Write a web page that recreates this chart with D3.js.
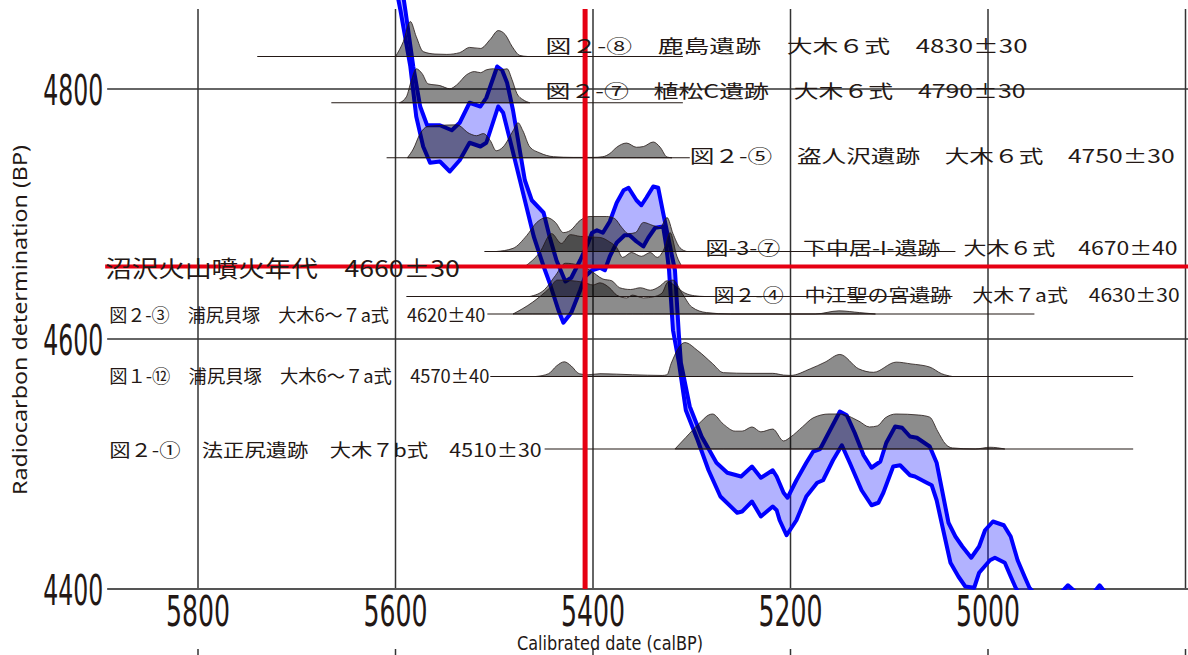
<!DOCTYPE html>
<meta charset="utf-8">
<style>
  body { margin: 0; background: #fff; }
  svg { display: block; }
  .num { font-family: "Liberation Sans Narrow", "DejaVu Sans Condensed", sans-serif; fill: #231815; }
  .jp { font-family: "Noto Sans CJK JP", sans-serif; fill: #231815; }
</style>
<body>
<svg class="chart"></svg>
<script src="https://cdn.jsdelivr.net/npm/d3@7"></script>
<script>

// axis ticks
var xTicks = [5800, 5600, 5400, 5200, 5000];
var yTicks = [4800, 4600, 4400];
var gridCal = [5800, 5600, 5400, 5200, 5000, 4800];

// calibration curve, upper and lower edge [calBP, BP]
var curveUpper = [[5593,4879],[5590,4863],[5582,4818],[5575,4786],[5568,4771],[5555,4771],[5543,4767],[5535,4773],
  [5525,4789],[5514,4786],[5508,4793],[5497,4818],[5492,4815],[5487,4805],[5481,4783],[5469,4727],[5462,4711],
  [5450,4701],[5444,4682],[5437,4663],[5428,4646],[5422,4649],[5413,4663],[5406,4675],[5401,4685],[5396,4687],
  [5390,4685],[5383,4694],[5376,4709],[5369,4719],[5364,4721],[5356,4711],[5351,4707],[5346,4713],[5339,4722],
  [5334,4721],[5329,4701],[5317,4655],[5313,4603],[5311,4581],[5302,4546],[5290,4522],[5275,4501],[5264,4493],
  [5250,4490],[5239,4498],[5230,4489],[5218,4495],[5214,4490],[5207,4477],[5203,4473],[5194,4487],[5184,4501],
  [5177,4510],[5170,4512],[5160,4527],[5150,4542],[5143,4539],[5135,4525],[5126,4507],[5118,4497],[5109,4502],
  [5103,4517],[5094,4530],[5087,4529],[5079,4522],[5072,4521],[5059,4514],[5052,4501],[5040,4453],[5033,4442],
  [5026,4434],[5017,4425],[5009,4434],[5003,4447],[4995,4454],[4984,4451],[4977,4442],[4970,4423],[4963,4410],
  [4958,4401],[4942,4387],[4925,4398],[4919,4403],[4912,4398],[4899,4391],[4887,4403],[4879,4395],[4861,4379],
  [4795,4359]];
var curveLower = [[5599,4879],[5595,4863],[5585,4818],[5579,4778],[5572,4754],[5565,4741],[5555,4742],[5545,4734],
  [5535,4743],[5525,4757],[5514,4754],[5508,4757],[5496,4786],[5491,4781],[5484,4759],[5474,4727],[5460,4682],
  [5450,4658],[5444,4645],[5435,4623],[5430,4613],[5422,4621],[5413,4639],[5408,4650],[5401,4655],[5393,4657],
  [5388,4655],[5383,4666],[5376,4677],[5368,4683],[5363,4683],[5356,4678],[5349,4674],[5344,4681],[5337,4689],
  [5329,4690],[5326,4675],[5323,4655],[5319,4607],[5313,4581],[5306,4543],[5294,4519],[5283,4495],[5271,4474],
  [5254,4461],[5249,4462],[5239,4470],[5230,4458],[5218,4466],[5214,4463],[5211,4455],[5204,4443],[5194,4455],
  [5184,4474],[5173,4485],[5167,4487],[5157,4503],[5148,4515],[5140,4501],[5128,4479],[5118,4467],[5111,4469],
  [5106,4477],[5096,4498],[5089,4499],[5079,4491],[5074,4490],[5062,4485],[5057,4483],[5052,4471],[5047,4453],
  [5038,4421],[5030,4410],[5023,4402],[5014,4401],[5009,4413],[4998,4423],[4993,4425],[4983,4421],[4977,4410],
  [4972,4401],[4957,4383],[4927,4387],[4887,4387],[4795,4367]];

// calibrated probability distributions [calBP, relative probability]
var distKashima = [[5600,0],[5592,0.43],[5585,1.0],[5579,0.57],[5572,0.14],[5560,0.07],[5548,0.06],[5535,0.11],
  [5525,0.26],[5514,0.23],[5504,0.49],[5496,0.74],[5489,0.63],[5482,0.29],[5474,0.03],[5466,0]];
var distUematsu = [[5596,0],[5589,0.17],[5584,0.63],[5579,0.97],[5573,0.83],[5567,0.54],[5555,0.49],[5545,0.4],
  [5538,0.51],[5528,0.8],[5520,0.89],[5514,0.86],[5508,0.94],[5501,0.97],[5494,0.94],[5487,0.97],[5482,0.66],
  [5477,0.26],[5471,0.09],[5464,0]];
var distNusutozawa = [[5588,0],[5582,0.25],[5575,0.69],[5568,0.89],[5562,0.91],[5538,0.94],[5525,0.69],[5518,0.63],
  [5511,0.69],[5504,0.49],[5498,0.2],[5491,0.31],[5481,0.77],[5476,1.0],[5471,0.77],[5464,0.31],[5454,0.14],
  [5440,0.03],[5420,0.01],[5400,0.01],[5390,0.03],[5383,0.12],[5376,0.3],[5366,0.42],[5356,0.3],[5349,0.32],
  [5339,0.45],[5332,0.3],[5325,0.02],[5320,0]];
var distShimonakai = [[5498,0],[5481,0.09],[5467,0.46],[5457,0.83],[5447,0.97],[5438,0.83],[5430,0.54],[5423,0.6],
  [5413,0.89],[5403,1.0],[5386,1.0],[5378,0.94],[5371,0.69],[5364,0.51],[5357,0.54],[5349,0.83],[5339,0.74],
  [5332,0.69],[5325,0.97],[5319,0.51],[5312,0.11],[5305,0]];
var distNumazawa = [[5469,0],[5454,0.4],[5442,0.94],[5432,0.66],[5423,0.91],[5413,0.86],[5393,0.83],[5383,0.7],
  [5376,0.54],[5370,0.26],[5361,0.4],[5351,0.29],[5342,0.4],[5335,0.26],[5327,0.57],[5322,0.97],[5315,0.29],[5310,0]];
var distNakae = [[5464,0],[5449,0.2],[5438,0.6],[5428,0.95],[5415,0.9],[5403,0.75],[5390,0.5],[5381,0.45],
  [5373,0.25],[5362,0.2],[5352,0.25],[5342,0.18],[5332,0.3],[5325,0.45],[5317,0.3],[5307,0.1],[5297,0.02],[5287,0]];
var distUrajiri3 = [[5481,0],[5461,0.34],[5444,0.74],[5436,0.97],[5410,0.91],[5400,0.83],[5393,0.89],[5383,0.74],
  [5376,0.54],[5366,0.46],[5360,0.54],[5349,0.46],[5339,0.49],[5330,0.6],[5325,0.89],[5319,0.97],[5310,0.6],
  [5300,0.2],[5285,0.04],[5261,0],[5175,0],[5151,0.09],[5130,0.04],[5114,0]];
var distUrajiri12 = [[5458,0],[5445,0.08],[5437,0.3],[5429,0.42],[5422,0.3],[5414,0.08],[5405,0.05],[5393,0.08],
  [5360,0.05],[5330,0.03],[5325,0.05],[5321,0.36],[5307,0.97],[5294,0.74],[5279,0.37],[5268,0.11],[5241,0.09],
  [5218,0.09],[5207,0.04],[5200,0.03],[5180,0.22],[5165,0.41],[5150,0.63],[5131,0.22],[5116,0.12],[5093,0.41],
  [5078,0.36],[5059,0.27],[5047,0.08],[5036,0]];
var distHoshojiri = [[5317,0],[5306,0.33],[5290,0.8],[5283,0.97],[5279,1.0],[5268,0.71],[5256,0.51],[5249,0.51],
  [5239,0.63],[5230,0.49],[5218,0.57],[5207,0.23],[5200,0.34],[5188,0.63],[5177,0.89],[5161,1.0],[5150,1.0],
  [5131,0.8],[5120,0.63],[5112,0.66],[5104,0.89],[5093,1.0],[5070,0.97],[5059,0.91],[5051,0.51],[5043,0.14],
  [5036,0.03],[5013,0],[4998,0.05],[4983,0]];

var sampleDists = [distKashima, distUematsu, distNusutozawa, distShimonakai, distNumazawa,
  distNakae, distUrajiri3, distUrajiri12, distHoshojiri];
var sampleBaseBP = [4826, 4789, 4745, 4670, 4658, 4634, 4620, 4570, 4512];
var sampleLineFrom = [5740, 5665, 5609, 5510, null, 5589, 5507, 5504, 5449];
var sampleLineTo = [5309, 5309, 5302, 5033, null, 5036, 4953, 4853, 4853];

// labels
var labelText = [
  "図２-⑧　鹿島遺跡　大木６式　4830±30",
  "図２-⑦　植松C遺跡　大木６式　4790±30",
  "図２-⑤　盗人沢遺跡　大木６式　4750±30",
  "図-3-⑦　下中居-I-遺跡　大木６式　4670±40",
  "図２-④　中江聖の宮遺跡　大木７a式　4630±30",
  "図２-③　浦尻貝塚　大木6～７a式　4620±40",
  "図１-⑫　浦尻貝塚　大木6～７a式　4570±40",
  "図２-①　法正尻遺跡　大木７b式　4510±30"];
var labelFrom = [5448, 5448, 5302, 5286, 5278, 5890, 5890, 5890];
var labelTo = [4960, 4962, 4811, 4808, 4806, 5509, 5505, 5452];
var labelBP = [4835, 4799, 4747, 4674, 4636, 4620, 4571, 4512];

// Numazawa eruption marker
var eruptionText = "沼沢火山噴火年代　4660±30";
var eruptionBP = 4658;
var eruptionCal = 5408;

var width = 1188, height = 655;

var svg = d3.select(".chart")
    .attr("width", width)
    .attr("height", height);

var x = d3.scaleLinear().domain([5800, 5000]).range([198, 988]);
var y = d3.scaleLinear().domain([4800, 4400]).range([89, 589]);
var h = d3.scaleLinear().domain([0, 1]).range([0, 35]);

var ink = "#231815";

// vertical grid
svg.append("g").selectAll("line")
    .data(gridCal)
  .enter().append("line")
    .attr("x1", function(d) { return x(d); })
    .attr("x2", function(d) { return x(d); })
    .attr("y1", y(4864))
    .attr("y2", y(4400))
    .attr("stroke", "#333")
    .attr("stroke-width", 1.5);

// stubs of the panel below
svg.append("g").selectAll("line")
    .data(gridCal)
  .enter().append("line")
    .attr("x1", function(d) { return x(d); })
    .attr("x2", function(d) { return x(d); })
    .attr("y1", y(4352))
    .attr("y2", y(4340))
    .attr("stroke", "#333")
    .attr("stroke-width", 1.5);

// horizontal grid + bottom axis
svg.append("g").selectAll("line")
    .data(yTicks)
  .enter().append("line")
    .attr("x1", x(5892))
    .attr("x2", width)
    .attr("y1", function(d) { return y(d); })
    .attr("y2", function(d) { return y(d); })
    .attr("stroke", function(d) { return d === 4400 ? "#555" : "#333"; })
    .attr("stroke-width", function(d) { return d === 4400 ? 2.2 : 1.5; });

// clip for the calibration curve (stops at the axis)
svg.append("clipPath").attr("id", "plotclip")
  .append("rect")
    .attr("x", 0).attr("y", -30)
    .attr("width", width)
    .attr("height", y(4400) + 30 + 1);

var line = d3.line()
    .x(function(d) { return x(d[0]); })
    .y(function(d) { return y(d[1]); });

var curve = svg.append("g").attr("clip-path", "url(#plotclip)");

curve.append("path")
    .attr("d", line(curveUpper.concat(curveLower.slice().reverse())) + "Z")
    .attr("fill", "#0000ff")
    .attr("fill-opacity", 0.3);

[curveUpper, curveLower].forEach(function(c) {
  curve.append("path")
      .attr("d", line(c))
      .attr("fill", "none")
      .attr("stroke", "#0000ff")
      .attr("stroke-width", 4)
      .attr("stroke-linejoin", "round");
});

// probability distributions
var dists = svg.append("g");
sampleDists.forEach(function(dist, i) {
  var base = y(sampleBaseBP[i]);
  if (sampleLineFrom[i] !== null) {
    dists.append("line")
        .attr("x1", x(sampleLineFrom[i]))
        .attr("x2", x(sampleLineTo[i]))
        .attr("y1", base).attr("y2", base)
        .attr("stroke", ink)
        .attr("stroke-width", 1.2);
  }
  var area = d3.area()
      .x(function(d) { return x(d[0]); })
      .y0(base)
      .y1(function(d) { return base - h(d[1]); })
      .curve(d3.curveMonotoneX);
  dists.append("path")
      .attr("d", area(dist.slice().reverse()))
      .attr("fill", "#000")
      .attr("fill-opacity", 0.45)
      .attr("stroke", ink)
      .attr("stroke-width", 0.8);
});

// red eruption lines
svg.append("line")
    .attr("x1", x(eruptionCal)).attr("x2", x(eruptionCal))
    .attr("y1", y(4864)).attr("y2", y(4400))
    .attr("stroke", "#e60012")
    .attr("stroke-width", 5);
svg.append("line")
    .attr("x1", x(5894)).attr("x2", width)
    .attr("y1", y(eruptionBP)).attr("y2", y(eruptionBP))
    .attr("stroke", "#e60012")
    .attr("stroke-width", 4);

// sample labels (stretched to the width they take in the figure)
svg.append("g").selectAll("text")
    .data(labelText)
  .enter().append("text")
    .attr("class", "jp")
    .attr("x", function(d, i) { return x(labelFrom[i]); })
    .attr("y", function(d, i) { return y(labelBP[i]); })
    .attr("dominant-baseline", "central")
    .attr("textLength", function(d, i) { return x(labelTo[i]) - x(labelFrom[i]); })
    .attr("lengthAdjust", "spacingAndGlyphs")
    .style("font-size", "18px")
    .text(function(d) { return d; });

svg.append("text")
    .attr("class", "jp")
    .attr("x", x(5894))
    .attr("y", y(eruptionBP))
    .attr("dominant-baseline", "central")
    .attr("textLength", x(5535) - x(5894))
    .attr("lengthAdjust", "spacingAndGlyphs")
    .style("font-size", "23px")
    .text(eruptionText);

// tick labels
svg.append("g").selectAll("text")
    .data(xTicks)
  .enter().append("text")
    .attr("class", "num")
    .attr("x", function(d) { return x(d); })
    .attr("y", y(4400) + 37)
    .attr("text-anchor", "middle")
    .attr("textLength", 64)
    .attr("lengthAdjust", "spacingAndGlyphs")
    .style("font-size", "43px")
    .text(function(d) { return d; });

svg.append("g").selectAll("text")
    .data(yTicks)
  .enter().append("text")
    .attr("class", "num")
    .attr("x", x(5896))
    .attr("y", function(d) { return y(d) + 16; })
    .attr("text-anchor", "end")
    .attr("textLength", 60)
    .attr("lengthAdjust", "spacingAndGlyphs")
    .style("font-size", "42px")
    .text(function(d) { return d; });

// axis titles
svg.append("text")
    .attr("class", "num")
    .attr("x", 610)
    .attr("y", 650)
    .attr("text-anchor", "middle")
    .attr("textLength", 186)
    .attr("lengthAdjust", "spacingAndGlyphs")
    .style("font-size", "20px")
    .text("Calibrated date (calBP)");

svg.append("text")
    .attr("transform", "translate(27,320) rotate(-90)")
    .attr("text-anchor", "middle")
    .attr("textLength", 350)
    .attr("lengthAdjust", "spacingAndGlyphs")
    .style("font-family", "'Noto Sans', sans-serif")
    .style("font-size", "19px")
    .style("fill", ink)
    .text("Radiocarbon determination (BP)");

</script>
</body>
